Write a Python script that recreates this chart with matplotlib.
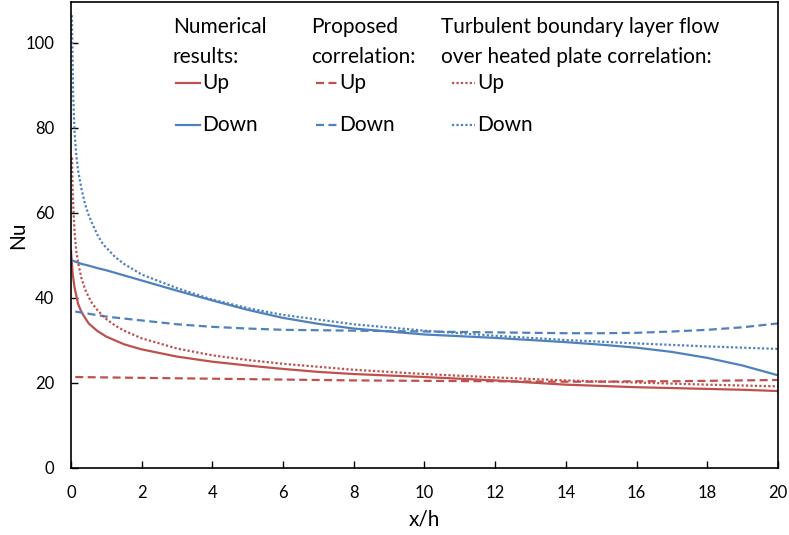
import matplotlib
matplotlib.use("Agg")
import matplotlib.pyplot as plt
from matplotlib.lines import Line2D
import numpy as np

plt.rcParams['font.family'] = ['Lato', 'DejaVu Sans']

red = '#C0504D'
blue = '#4F81BD'

# numerical results
x_num = [0, 0.05, 0.1, 0.2, 0.3, 0.5, 0.75, 1, 1.5, 2, 3, 4, 5, 6, 7, 8, 10, 12, 14, 15, 16, 17, 18, 19, 20]
num_up = [51, 45.5, 42.5, 38.6, 36.6, 34.0, 32.2, 30.9, 29.1, 27.9, 26.2, 25.0, 24.1, 23.3, 22.6, 22.1, 21.4, 20.6,
          19.6, 19.3, 19.0, 18.8, 18.6, 18.4, 18.1]
num_down = [49, 48.8, 48.6, 48.3, 48.0, 47.6, 47.0, 46.5, 45.3, 44.1, 41.7, 39.4, 37.2, 35.3, 33.9, 32.8, 31.4, 30.6,
            29.6, 29.0, 28.3, 27.3, 25.9, 24.1, 21.8]

# proposed correlation
x_prop = [0.12, 1, 2, 3, 4, 5, 6, 8, 10, 12, 14, 15, 16, 17, 18, 19, 20]
prop_up = [21.4, 21.3, 21.2, 21.1, 21.0, 20.9, 20.8, 20.6, 20.5, 20.4, 20.3, 20.3, 20.4, 20.4, 20.5, 20.6, 20.7]
prop_down = [36.8, 35.6, 34.7, 33.8, 33.2, 32.8, 32.5, 32.3, 32.1, 31.9, 31.7, 31.7, 31.8, 32.1, 32.5, 33.1, 34.0]

# turbulent boundary layer flow over heated plate correlation
x_turb_up = [0.03, 0.05, 0.1, 0.15, 0.2, 0.3, 0.4, 0.5, 0.6, 0.75, 0.9, 1, 1.25, 1.5, 2, 3, 4, 5, 6, 8, 10, 12, 14,
             16, 18, 20]
turb_up = [73, 64, 55.5, 51, 48.3, 44.5, 42.0, 40.2, 38.7, 37.1, 35.8, 35.0, 33.5, 32.3, 30.5, 28.1, 26.5, 25.4,
           24.5, 23.1, 22.1, 21.3, 20.6, 20.1, 19.6, 19.2]
x_turb_down = [0.025, 0.04, 0.06, 0.1, 0.15, 0.2, 0.3, 0.4, 0.5, 0.6, 0.75, 0.9, 1, 1.25, 1.5, 2, 3, 4, 5, 6, 8, 10,
               12, 14, 16, 18, 20]
turb_down = [106.5, 99, 88, 79, 73.5, 70, 65.5, 62.0, 59.5, 57.5, 54.8, 52.7, 51.8, 49.6, 48, 45.5, 42.3, 39.6,
             37.6, 36.0, 33.8, 32.3, 31.1, 30.1, 29.3, 28.6, 28.0]

W, H = 789, 535
fig = plt.figure(figsize=(W / 100, H / 100), dpi=100)
ax = fig.add_axes([71 / W, 1 - 468 / H, (778 - 71) / W, (468 - 2) / H])

lw = 1.6
dash = (0, (3.6, 2))
dot = (0, (1, 1))
ax.plot(x_num, num_up, color=red, lw=lw)
ax.plot(x_num, num_down, color=blue, lw=lw)
ax.plot(x_prop, prop_up, color=red, lw=lw, linestyle=dash)
ax.plot(x_prop, prop_down, color=blue, lw=lw, linestyle=dash)
ax.plot(x_turb_up, turb_up, color=red, lw=lw, linestyle=dot)
ax.plot(x_turb_down, turb_down, color=blue, lw=lw, linestyle=dot)

ax.set_xlim(0, 20)
ax.set_ylim(0, 109.6)
ax.set_xticks(np.arange(0, 21, 2))
ax.set_yticks(np.arange(0, 101, 20))
ax.tick_params(direction='in', length=5, width=1, labelsize=12, pad=12, colors='black')
for s in ax.spines.values():
    s.set_linewidth(1.2)
ax.set_xlabel('x/h', fontsize=15, labelpad=6)
ax.set_ylabel('Nu', fontsize=15, labelpad=-2)

# hand-made legend
def px(x, y):
    return x / W, 1 - y / H

heads = [(173, 'Numerical', 'results:'), (311, 'Proposed', 'correlation:'),
         (441, 'Turbulent boundary layer flow', 'over heated plate correlation:')]
for x0, t1, t2 in heads:
    fig.text(*px(x0, 33), t1, fontsize=15, va='baseline', ha='left')
    fig.text(*px(x0, 63), t2, fontsize=15, va='baseline', ha='left')

styles = ['-', dash, dot]
starts = [(176, 200), (316, 337), (452, 475)]
for (a, b), ls in zip(starts, styles):
    for yy, col, lab in [(83, red, 'Up'), (125, blue, 'Down')]:
        x1, y1 = px(a, yy)
        x2, _ = px(b, yy)
        fig.add_artist(Line2D([x1, x2], [y1, y1], color=col, lw=lw, linestyle=ls))
        fig.text(*px(b + 2, yy), lab, fontsize=15, va='center', ha='left')

fig.savefig('out.png', dpi=100)
